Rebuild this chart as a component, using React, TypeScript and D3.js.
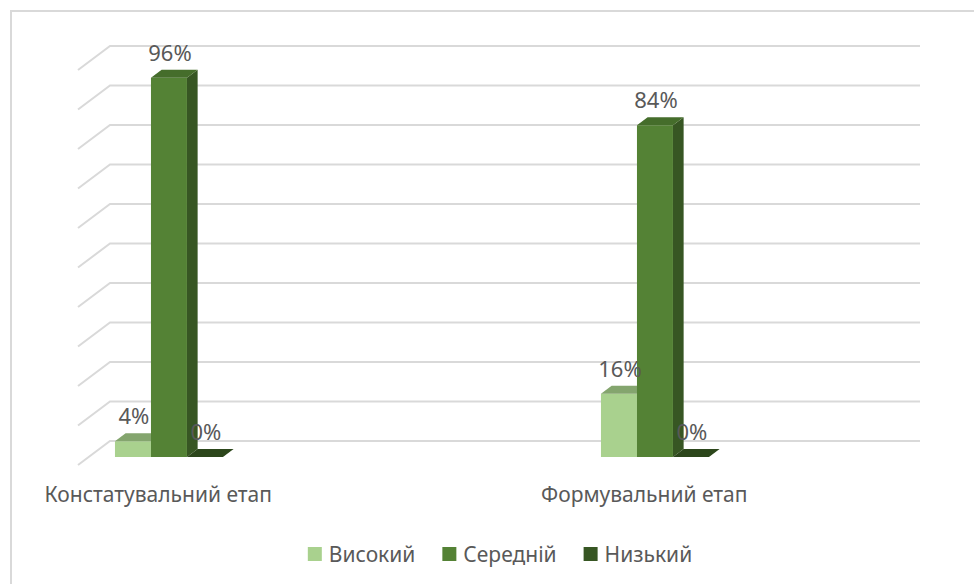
import React, { useEffect, useRef } from "react";
import * as d3 from "d3";

const categories = ["Констатувальний етап", "Формувальний етап"];
const seriesNames = ["Високий", "Середній", "Низький"];
const highValues = [0.04, 0.16];
const mediumValues = [0.96, 0.84];
const lowValues = [0, 0];
const gridTicks = [0, 0.1, 0.2, 0.3, 0.4, 0.5, 0.6, 0.7, 0.8, 0.9, 1.0];

const seriesValues = [highValues, mediumValues, lowValues];
const frontColors = ["#a9d18e", "#548235", "#375623"];
const topColors = ["#84a56e", "#456d2b", "#2c461b"];
const sideColors = ["#87a872", "#375623", "#2a4219"];

const W = 974;
const H = 584;
const DX = 32;
const DY = -24;
const FONT = "'Noto Sans', 'Open Sans', sans-serif";
const TEXT = "#595959";

export default function App() {
  const ref = useRef<SVGSVGElement>(null);

  useEffect(() => {
    const svg = d3.select(ref.current);
    svg.selectAll("*").remove();

    // outer border
    svg.append("rect").attr("x", 11).attr("y", 11).attr("width", 990).attr("height", 600)
      .attr("fill", "#fff").attr("stroke", "#d9d9d9").attr("stroke-width", 2);

    const y0 = d3.scaleLinear().domain([0, 1]).range([465, 70]);
    const xCat = d3.scalePoint<string>().domain(categories).range([158.3, 644.3]);
    const xSer = d3.scaleBand<string>().domain(seriesNames).range([-54, 54]).padding(0);
    const proj = (x: number, v: number, d: number): [number, number] => [x + DX * d, y0(v) + DY * d];

    // gridlines (side wall + back wall)
    const left = 78;
    const right = 920;
    const grid = svg.append("g");
    gridTicks.forEach((t) => {
      const p0 = proj(left, t, 0);
      const p1 = proj(left, t, 1);
      grid.append("polyline")
        .attr("points", `${p0[0]},${p0[1]} ${p1[0]},${p1[1]} ${right},${p1[1]}`)
        .attr("fill", "none").attr("stroke", "#d9d9d9").attr("stroke-width", 2);
    });

    // bars
    const bars = svg.append("g");
    const bw = xSer.bandwidth();
    const dF = 1 / 3;
    const dB = 2 / 3;
    const labels: { x: number; y: number; t: string }[] = [];
    categories.forEach((c, ci) => {
      seriesNames.forEach((s, si) => {
        const v = seriesValues[si][ci];
        const x0 = (xCat(c) as number) + (xSer(s) as number);
        const x1 = x0 + bw;
        const fbl = proj(x0, 0, dF), fbr = proj(x1, 0, dF);
        const ftl = proj(x0, v, dF), ftr = proj(x1, v, dF);
        const btl = proj(x0, v, dB), btr = proj(x1, v, dB);
        const bbr = proj(x1, 0, dB);
        const poly = (pts: [number, number][]) => pts.map((p) => p.join(",")).join(" ");
        bars.append("polygon").attr("points", poly([fbr, ftr, btr, bbr])).attr("fill", sideColors[si]);
        if (v > 0) {
          bars.append("polygon").attr("points", poly([fbl, fbr, ftr, ftl])).attr("fill", frontColors[si]);
        }
        bars.append("polygon").attr("points", poly([ftl, ftr, btr, btl])).attr("fill", topColors[si]);
        labels.push({ x: (x0 + x1) / 2 + 1 + DX * dF, y: btl[1] - 9, t: `${Math.round(v * 100)}%` });
      });
    });

    // data labels
    svg.append("g").selectAll("text").data(labels).join("text")
      .attr("x", (d) => d.x).attr("y", (d) => d.y)
      .attr("text-anchor", "middle").attr("font-family", FONT).attr("font-size", 22)
      .attr("fill", TEXT).text((d) => d.t);

    // category labels
    svg.append("g").selectAll("text").data(categories).join("text")
      .attr("x", (d) => xCat(d) as number).attr("y", 502)
      .attr("text-anchor", "middle").attr("font-family", FONT).attr("font-size", 21)
      .attr("fill", TEXT).text((d) => d);

    // legend
    const lg = svg.append("g");
    const items = seriesNames.map((s, i) => {
      const g = lg.append("g");
      g.append("rect").attr("x", 0).attr("y", -15).attr("width", 14).attr("height", 14).attr("fill", frontColors[i]);
      const t = g.append("text").attr("x", 21).attr("y", 0).attr("font-family", FONT).attr("font-size", 21)
        .attr("fill", TEXT).text(s);
      const w = 21 + (t.node() as SVGTextElement).getComputedTextLength();
      return { g, w };
    });
    const gap = 27;
    const total = d3.sum(items, (d) => d.w) + gap * (items.length - 1);
    let cx = 500 - total / 2;
    items.forEach((it) => {
      it.g.attr("transform", `translate(${cx},562)`);
      cx += it.w + gap;
    });
  }, []);

  return (
    <svg ref={ref} width={W} height={H} style={{ position: "absolute", left: 0, top: 0, background: "#fff" }} />
  );
}
